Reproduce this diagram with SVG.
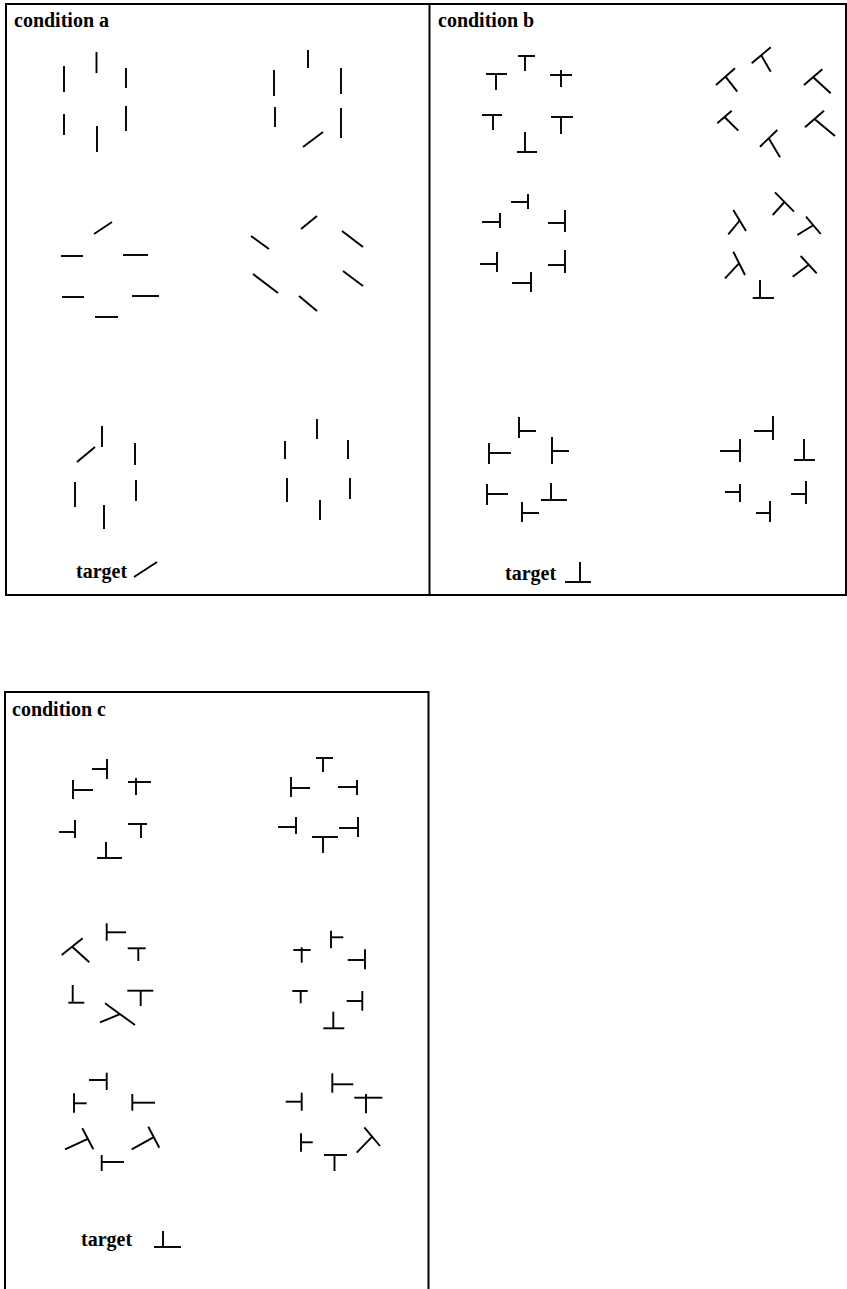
<svg xmlns="http://www.w3.org/2000/svg" width="847" height="1289" viewBox="0 0 847 1289">
<style>
.f{fill:none;stroke:#000;stroke-width:2}
.s line{stroke:#000;stroke-width:1.9;stroke-linecap:butt}
.t{font-family:"Liberation Serif","Times New Roman",serif;font-weight:bold;font-size:20px;fill:#000}
</style>
<rect width="847" height="1289" fill="#fff"/>
<g id="frames">
<rect class="f" x="6" y="4" width="840" height="591"/>
<line class="f" x1="429.5" y1="4" x2="429.5" y2="595"/>
<path class="f" d="M5,1295 V692 H428.5 V1295"/>
</g>
<g id="condition-a">
<text class="t" x="14" y="27">condition a</text>
<g id="a1" class="s">
<line x1="64" y1="66" x2="64" y2="92"/><line x1="96.5" y1="52" x2="96.5" y2="73"/><line x1="126" y1="68" x2="126" y2="88"/>
<line x1="64" y1="114" x2="64" y2="135"/><line x1="97" y1="126" x2="97" y2="152"/><line x1="126" y1="106" x2="126" y2="131"/>
</g>
<g id="a2" class="s">
<line x1="308" y1="50" x2="308" y2="68"/><line x1="274" y1="70" x2="274" y2="96"/><line x1="341" y1="68" x2="341" y2="94"/>
<line x1="275" y1="107" x2="275" y2="127"/><line x1="341" y1="108" x2="341" y2="138"/><line x1="303" y1="147" x2="323" y2="132"/>
</g>
<g id="a3" class="s">
<line x1="94" y1="234" x2="112" y2="222"/><line x1="61" y1="256" x2="83" y2="256"/><line x1="123" y1="255" x2="148" y2="255"/>
<line x1="62" y1="297" x2="84" y2="297"/><line x1="132" y1="296" x2="159" y2="296"/><line x1="95" y1="317" x2="118" y2="317"/>
</g>
<g id="a4" class="s">
<line x1="301" y1="229" x2="317" y2="216"/><line x1="251" y1="236" x2="269" y2="249"/><line x1="342" y1="231" x2="363" y2="247"/>
<line x1="253" y1="274" x2="278" y2="293"/><line x1="343" y1="271" x2="363" y2="286"/><line x1="299" y1="296" x2="317" y2="311"/>
</g>
<g id="a5" class="s">
<line x1="102" y1="426" x2="102" y2="447"/><line x1="77" y1="462" x2="95" y2="447"/><line x1="135" y1="443" x2="135" y2="465"/>
<line x1="75" y1="482" x2="75" y2="507"/><line x1="136" y1="480" x2="136" y2="501"/><line x1="104" y1="505" x2="104" y2="529"/>
</g>
<g id="a6" class="s">
<line x1="317" y1="419" x2="317" y2="439"/><line x1="285" y1="441" x2="285" y2="459"/><line x1="348" y1="440" x2="348" y2="459"/>
<line x1="287" y1="478" x2="287" y2="502"/><line x1="350" y1="478" x2="350" y2="499"/><line x1="320" y1="500" x2="320" y2="520"/>
</g>
<g id="a-target">
<text class="t" x="76" y="578">target</text>
<g class="s"><line x1="134" y1="577" x2="157" y2="562"/></g>
</g>
</g>
<g id="condition-b">
<text class="t" x="438" y="27">condition b</text>
<g id="b1" class="s">
<line x1="486" y1="74" x2="507" y2="74"/><line x1="496" y1="74" x2="496" y2="90"/>
<line x1="518" y1="56" x2="535" y2="56"/><line x1="525" y1="56" x2="525" y2="71"/>
<line x1="550" y1="75" x2="572" y2="75"/><line x1="561" y1="70" x2="561" y2="87"/>
<line x1="482" y1="115" x2="502" y2="115"/><line x1="493" y1="115" x2="493" y2="130"/>
<line x1="525" y1="132" x2="525" y2="152"/><line x1="517" y1="152" x2="537" y2="152"/>
<line x1="551" y1="117" x2="573" y2="117"/><line x1="561" y1="117" x2="561" y2="134"/>
</g>
<g id="b2" class="s">
<line x1="751.7" y1="63.3" x2="770.7" y2="47.3"/><line x1="761.2" y1="55.3" x2="770.7" y2="71.7"/>
<line x1="716" y1="85" x2="735" y2="68.3"/><line x1="725.5" y1="76.7" x2="737.3" y2="91.7"/>
<line x1="804" y1="85" x2="822.3" y2="69.3"/><line x1="813.2" y1="77.2" x2="830.7" y2="93.3"/>
<line x1="717.3" y1="123.3" x2="731.7" y2="110.7"/><line x1="724.5" y1="117" x2="738.3" y2="130.7"/>
<line x1="760" y1="146.7" x2="777.3" y2="130"/><line x1="768.7" y1="138.3" x2="780" y2="157.3"/>
<line x1="805" y1="127.3" x2="824" y2="110.7"/><line x1="814.5" y1="119" x2="835" y2="136"/>
</g>
<g id="b3" class="s">
<line x1="511" y1="202" x2="528" y2="202"/><line x1="528" y1="194" x2="528" y2="209"/>
<line x1="482" y1="222" x2="500" y2="222"/><line x1="500" y1="213" x2="500" y2="228"/>
<line x1="548" y1="223" x2="565" y2="223"/><line x1="565" y1="210" x2="565" y2="232"/>
<line x1="480" y1="264" x2="497" y2="264"/><line x1="497" y1="252" x2="497" y2="272"/>
<line x1="548" y1="265" x2="565" y2="265"/><line x1="565" y1="250" x2="565" y2="273"/>
<line x1="512" y1="283" x2="531" y2="283"/><line x1="531" y1="272" x2="531" y2="292"/>
</g>
<g id="b4" class="s">
<line x1="775" y1="192.3" x2="794" y2="211.7"/><line x1="784.5" y1="202" x2="772.7" y2="215"/>
<line x1="733.3" y1="210" x2="746" y2="231"/><line x1="739.7" y1="220.5" x2="728.3" y2="234.3"/>
<line x1="806" y1="216.7" x2="820.7" y2="234"/><line x1="813.3" y1="225.3" x2="797.3" y2="235"/>
<line x1="733.3" y1="251.7" x2="745" y2="275"/><line x1="739" y1="263.3" x2="725" y2="278.3"/>
<line x1="800.7" y1="256" x2="816.7" y2="273.3"/><line x1="808.7" y1="264.7" x2="792.7" y2="276.7"/>
<line x1="760" y1="280" x2="760" y2="298"/><line x1="752.7" y1="298" x2="774" y2="298"/>
</g>
<g id="b5" class="s">
<line x1="519" y1="417" x2="519" y2="438"/><line x1="519" y1="431" x2="536" y2="431"/>
<line x1="489" y1="443" x2="489" y2="464"/><line x1="489" y1="453" x2="511" y2="453"/>
<line x1="552" y1="437" x2="552" y2="464"/><line x1="552" y1="451" x2="569" y2="451"/>
<line x1="487" y1="484" x2="487" y2="505"/><line x1="487" y1="494" x2="508" y2="494"/>
<line x1="551" y1="483" x2="551" y2="500"/><line x1="541" y1="500" x2="567" y2="500"/>
<line x1="522" y1="502" x2="522" y2="522"/><line x1="522" y1="513" x2="539" y2="513"/>
</g>
<g id="b6" class="s">
<line x1="773" y1="416" x2="773" y2="440"/><line x1="754" y1="431" x2="773" y2="431"/>
<line x1="740" y1="439" x2="740" y2="462"/><line x1="720" y1="451" x2="740" y2="451"/>
<line x1="804" y1="439" x2="804" y2="460"/><line x1="794" y1="460" x2="815" y2="460"/>
<line x1="740" y1="484" x2="740" y2="502"/><line x1="725" y1="492" x2="740" y2="492"/>
<line x1="806" y1="481" x2="806" y2="504"/><line x1="791" y1="494" x2="806" y2="494"/>
<line x1="770" y1="501" x2="770" y2="522"/><line x1="756" y1="513" x2="770" y2="513"/>
</g>
<g id="b-target">
<text class="t" x="505" y="580">target</text>
<g class="s"><line x1="580" y1="562" x2="580" y2="582"/><line x1="565" y1="582" x2="591" y2="582"/></g>
</g>
</g>
<g id="condition-c">
<text class="t" x="12" y="716">condition c</text>
<g id="c1" class="s">
<line x1="92" y1="769" x2="107" y2="769"/><line x1="107" y1="759" x2="107" y2="779"/>
<line x1="73" y1="780" x2="73" y2="799"/><line x1="73" y1="790" x2="93" y2="790"/>
<line x1="128" y1="782" x2="151" y2="782"/><line x1="136" y1="778" x2="136" y2="795"/>
<line x1="59" y1="832" x2="75" y2="832"/><line x1="75" y1="820" x2="75" y2="838"/>
<line x1="128" y1="824" x2="147" y2="824"/><line x1="141" y1="824" x2="141" y2="838"/>
<line x1="106" y1="842" x2="106" y2="858"/><line x1="97" y1="858" x2="122" y2="858"/>
</g>
<g id="c2" class="s">
<line x1="316" y1="758" x2="333" y2="758"/><line x1="323" y1="758" x2="323" y2="772"/>
<line x1="291" y1="777" x2="291" y2="797"/><line x1="291" y1="788" x2="310" y2="788"/>
<line x1="338" y1="787" x2="357" y2="787"/><line x1="357" y1="780" x2="357" y2="795"/>
<line x1="278" y1="827" x2="296" y2="827"/><line x1="296" y1="817" x2="296" y2="834"/>
<line x1="312" y1="837" x2="338" y2="837"/><line x1="323" y1="837" x2="323" y2="853"/>
<line x1="339" y1="828" x2="358" y2="828"/><line x1="358" y1="817" x2="358" y2="837"/>
</g>
<g id="c3" class="s">
<line x1="61.7" y1="955" x2="82.7" y2="938.3"/><line x1="72.2" y1="946.7" x2="89.3" y2="962.3"/>
<line x1="106.7" y1="923.3" x2="106.7" y2="940.7"/><line x1="106.7" y1="932.3" x2="126" y2="932.3"/>
<line x1="127.7" y1="948.3" x2="145.7" y2="948.3"/><line x1="138.3" y1="948.3" x2="138.3" y2="961"/>
<line x1="72.7" y1="985" x2="72.7" y2="1002.7"/><line x1="68.3" y1="1002.7" x2="84.3" y2="1002.7"/>
<line x1="127.3" y1="990.7" x2="153.3" y2="990.7"/><line x1="140.7" y1="990.7" x2="140.7" y2="1006"/>
<line x1="105" y1="1003.3" x2="135" y2="1025"/><line x1="120" y1="1014.2" x2="100" y2="1022.3"/>
</g>
<g id="c4" class="s">
<line x1="293.3" y1="950" x2="310.7" y2="950"/><line x1="301.7" y1="947.3" x2="301.7" y2="962.7"/>
<line x1="331" y1="930.7" x2="331" y2="948.3"/><line x1="331" y1="937.3" x2="343.3" y2="937.3"/>
<line x1="347.7" y1="960" x2="365" y2="960"/><line x1="365" y1="949.3" x2="365" y2="969.3"/>
<line x1="292.3" y1="991" x2="307.7" y2="991"/><line x1="300.7" y1="991" x2="300.7" y2="1003.3"/>
<line x1="346.7" y1="1001" x2="362.3" y2="1001"/><line x1="362.3" y1="991" x2="362.3" y2="1010.7"/>
<line x1="333.3" y1="1011.7" x2="333.3" y2="1028.3"/><line x1="323.3" y1="1028.3" x2="344.3" y2="1028.3"/>
</g>
<g id="c5" class="s">
<line x1="89" y1="1080" x2="106.7" y2="1080"/><line x1="106.7" y1="1072.7" x2="106.7" y2="1090"/>
<line x1="74" y1="1093.3" x2="74" y2="1112.7"/><line x1="74" y1="1103.3" x2="86.7" y2="1103.3"/>
<line x1="132.3" y1="1094" x2="132.3" y2="1110.7"/><line x1="132.3" y1="1102.7" x2="155" y2="1102.7"/>
<line x1="82.3" y1="1128.3" x2="93.3" y2="1149.3"/><line x1="87.8" y1="1138.8" x2="65" y2="1149.3"/>
<line x1="148.3" y1="1126.7" x2="159.3" y2="1147.7"/><line x1="153.8" y1="1137.2" x2="131.7" y2="1149.3"/>
<line x1="101.7" y1="1155" x2="101.7" y2="1171"/><line x1="101.7" y1="1162" x2="124" y2="1162"/>
</g>
<g id="c6" class="s">
<line x1="332.3" y1="1073.3" x2="332.3" y2="1092.7"/><line x1="332.3" y1="1084.3" x2="353.3" y2="1084.3"/>
<line x1="285.7" y1="1101.7" x2="301.7" y2="1101.7"/><line x1="301.7" y1="1092.7" x2="301.7" y2="1110.7"/>
<line x1="354.3" y1="1097.7" x2="382.3" y2="1097.7"/><line x1="366" y1="1094" x2="366" y2="1113.3"/>
<line x1="301" y1="1133.3" x2="301" y2="1151.7"/><line x1="301" y1="1142.3" x2="312.7" y2="1142.3"/>
<line x1="364.3" y1="1127.3" x2="380" y2="1146"/><line x1="372.2" y1="1136.7" x2="356.7" y2="1152.7"/>
<line x1="324" y1="1155" x2="347" y2="1155"/><line x1="334.5" y1="1155" x2="334.5" y2="1171"/>
</g>
<g id="c-target">
<text class="t" x="81" y="1246">target</text>
<g class="s"><line x1="163" y1="1231" x2="163" y2="1247"/><line x1="154" y1="1247" x2="181" y2="1247"/></g>
</g>
</g>
</svg>
